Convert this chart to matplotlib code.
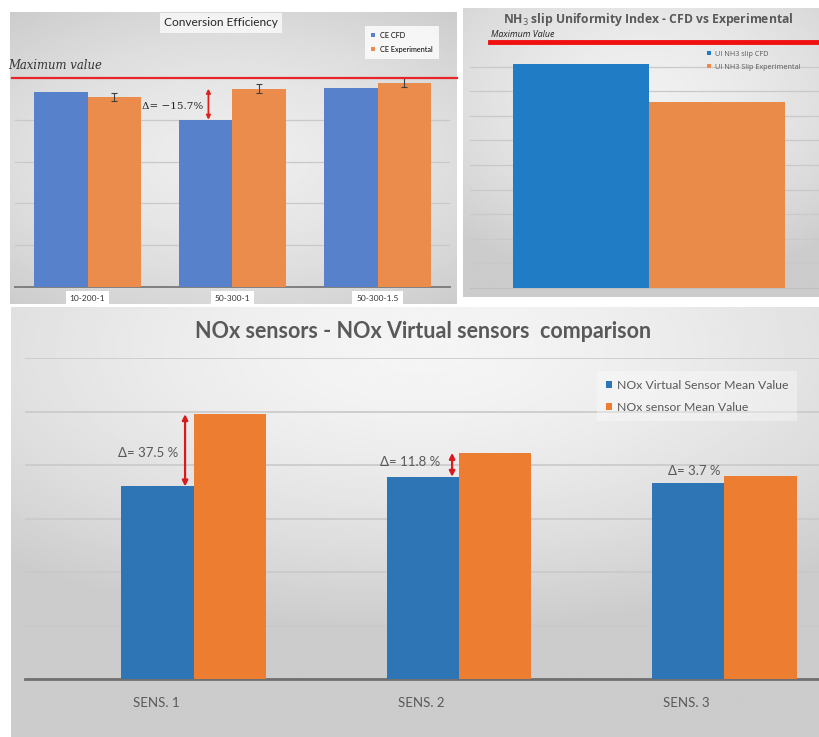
import numpy as np
import matplotlib
matplotlib.use("Agg")
import matplotlib.pyplot as plt

# --- data ---
ce_cases = ["10-200-1", "50-300-1", "50-300-1.5"]
ce_cfd = [93.5, 80.0, 95.0]
ce_exp = [91.0, 94.9, 97.8]
ce_exp_err = [2.0, 2.2, 2.0]
ce_max = 100.0

ui_labels = ["UI NH3 slip CFD", "UI NH3 Slip Experimental"]
ui_values = [0.91, 0.755]
ui_max = 1.0

sensors = ["SENS. 1", "SENS. 2", "SENS. 3"]
nox_virtual = [3.60, 3.78, 3.66]
nox_sensor = [4.95, 4.226, 3.795]

W, H = 820, 737
fig = plt.figure(figsize=(W / 100, H / 100), dpi=100)
fig.patch.set_facecolor("white")


def rect(x0, y0, x1, y1):
    # pixel box (top-left origin) -> figure fraction
    return [x0 / W, 1 - y1 / H, (x1 - x0) / W, (y1 - y0) / H]


def panel_bg(box, hi, lo, cy=0.0):
    ax = fig.add_axes(rect(*box), zorder=0)
    ax.axis("off")
    yy, xx = np.mgrid[-1:1:300j, -1:1:300j]
    r = np.sqrt(0.7 * xx ** 2 + (yy - cy) ** 2)
    img = hi - (hi - lo) * np.clip(r / 1.3, 0, 1) ** 1.6
    ax.imshow(img, cmap="gray", vmin=0, vmax=1, aspect="auto",
              interpolation="bilinear")
    return ax


GRID = "#c9c9c9"
TXT = "#595959"

# ================= Conversion Efficiency =================
panel_bg((10, 12, 457, 304), 0.93, 0.80)
ax1 = fig.add_axes(rect(15, 78, 450, 287), zorder=2)
ax1.patch.set_alpha(0)
x = np.arange(len(ce_cases))
bw = 0.372
ax1.bar(x - bw / 2, ce_cfd, bw, color="#5781cb", zorder=3, label="CE CFD")
ax1.bar(x + bw / 2, ce_exp, bw, color="#ec8c4c", zorder=3, label="CE Experimental")
ax1.errorbar(x + bw / 2, ce_exp, yerr=ce_exp_err, fmt="none", ecolor="#404040",
             elinewidth=0.8, capsize=2, capthick=0.8, zorder=4)
ax1.set_xlim(-0.5, 2.5)
ax1.set_ylim(0, ce_max)
ax1.set_yticks([20, 40, 60, 80])
ax1.yaxis.grid(True, color=GRID, lw=0.9, zorder=0)
ax1.set_axisbelow(True)
for s in ["top", "right", "left"]:
    ax1.spines[s].set_visible(False)
ax1.spines["bottom"].set_color("#7f7f7f")
ax1.spines["bottom"].set_linewidth(1.4)
ax1.tick_params(left=False, labelleft=False, bottom=False, labelbottom=False)
for xi, lab in zip(x, ce_cases):
    ax1.text(xi, -4, lab, ha="center", va="top", fontsize=6, family="Lato",
             color="#333333", bbox=dict(fc="white", ec="none", pad=3))
ax1.axhline(ce_max, xmin=-0.008, xmax=1.016, color="#e8262a", lw=1.6,
            clip_on=False, zorder=5)
ax1.text(-0.545, ce_max + 3, "Maximum value", fontsize=8.4, style="italic",
         family="DejaVu Serif", color="#333333", va="bottom")
fig.text(221 / W, 1 - 23 / H, "Conversion Efficiency", ha="center", va="center",
         fontsize=8.6, family="Lato", color="#262626",
         bbox=dict(fc="white", ec="none", pad=3, alpha=0.7))
d1 = (ce_cfd[1] - ce_exp[1]) / ce_exp[1] * 100
ax1.annotate("", xy=(0.834, ce_cfd[1]), xytext=(0.834, ce_exp[1]),
             arrowprops=dict(arrowstyle="<|-|>", color="#e0201c", lw=1.3,
                             shrinkA=0, shrinkB=0, mutation_scale=6), zorder=6)
ax1.text(0.80, 86.5, "Δ= −%.1f%%" % abs(d1), ha="right", va="center",
         fontsize=7.5, family="DejaVu Serif", color="#222222")
leg1 = ax1.legend(loc="upper left", bbox_to_anchor=(0.80, 1.26),
                  frameon=True, handlelength=0.5, handleheight=0.5,
                  borderpad=0.6, labelspacing=1.0, handletextpad=0.8,
                  prop=dict(family="Lato", size=5.2))
leg1.get_frame().set_facecolor("white")
leg1.get_frame().set_edgecolor("none")
leg1.get_frame().set_boxstyle("square", pad=0.2)

# ================= NH3 slip Uniformity Index =================
panel_bg((463, 8, 830, 297), 0.94, 0.80, cy=-0.4)
ax2 = fig.add_axes(rect(470, 42, 820, 288), zorder=2)
ax2.patch.set_alpha(0)
bw2 = 0.38
ax2.bar(-bw2 / 2, ui_values[0], bw2, color="#1f7cc5", zorder=3, label=ui_labels[0])
ax2.bar(bw2 / 2, ui_values[1], bw2, color="#eb8b49", zorder=3, label=ui_labels[1])
ax2.set_xlim(-0.5, 0.478)
ax2.set_ylim(0, ui_max)
ax2.set_yticks(np.arange(0.1, 1.0, 0.1))
ax2.yaxis.grid(True, color=GRID, lw=0.9, zorder=0)
ax2.set_axisbelow(True)
for s in ["top", "right", "left"]:
    ax2.spines[s].set_visible(False)
ax2.spines["bottom"].set_color("#c0c0c0")
ax2.tick_params(left=False, labelleft=False, bottom=False, labelbottom=False)
ax2.axhline(ui_max, xmin=20 / 350, xmax=1.0, color="#f01010", lw=3.5,
            clip_on=False, zorder=5)
ax2.text(-0.44, ui_max + 0.012, "Maximum Value", fontsize=6.4, style="italic",
         family="Open Sans", color="#222222", va="bottom")
fig.text(648 / W, 1 - 20 / H, r"NH$_3$ slip Uniformity Index - CFD vs Experimental",
         ha="center", va="center", fontsize=8.7, fontweight="bold",
         family="Open Sans", color="#595959")
leg2 = ax2.legend(loc="upper left", bbox_to_anchor=(0.66, 0.99),
                  frameon=False, handlelength=0.5, handleheight=0.5,
                  labelspacing=0.8, handletextpad=0.5,
                  prop=dict(family="Open Sans", size=5.2))
for t in leg2.get_texts():
    t.set_color(TXT)

# ================= NOx sensors =================
panel_bg((11, 307, 830, 737), 0.96, 0.80, cy=-0.8)
ax3 = fig.add_axes(rect(25, 358, 820, 679), zorder=2)
ax3.patch.set_alpha(0)
x3 = np.arange(len(sensors))
bw3 = 0.273
ax3.bar(x3 - bw3 / 2, nox_virtual, bw3, color="#2e75b6", zorder=3,
        label="NOx Virtual Sensor Mean Value")
ax3.bar(x3 + bw3 / 2, nox_sensor, bw3, color="#ed7d31", zorder=3,
        label="NOx sensor Mean Value")
ax3.set_xlim(-0.635, 2.36)
ax3.set_ylim(0, 6)
ax3.set_yticks(np.arange(1, 7))
ax3.yaxis.grid(True, color=GRID, lw=1.2, zorder=0)
ax3.set_axisbelow(True)
for s in ["top", "right", "left"]:
    ax3.spines[s].set_visible(False)
ax3.spines["bottom"].set_color("#6f6f6f")
ax3.spines["bottom"].set_linewidth(2)
ax3.tick_params(left=False, labelleft=False, bottom=False, labelbottom=False)
for xi, lab in zip(x3, sensors):
    ax3.text(xi - 0.142, -0.075, lab, transform=ax3.get_xaxis_transform(),
             ha="center", va="center", fontsize=9.5,
             family=["Liberation Sans Narrow", "Lato"], color=TXT)
fig.text(423 / W, 1 - 331 / H, "NOx sensors - NOx Virtual sensors  comparison",
         ha="center", va="center", fontsize=15.5, fontweight="bold",
         family="Lato", color="#595959")

arrow_x = [-0.032, 0.974, None]
label_pos = [(-0.058, 4.22), (0.928, 4.06), (1.885, 3.89)]
for i in range(len(sensors)):
    d = (nox_sensor[i] - nox_virtual[i]) / nox_virtual[i] * 100
    if arrow_x[i] is not None:
        ax3.annotate("", xy=(arrow_x[i], nox_virtual[i]),
                     xytext=(arrow_x[i], nox_sensor[i]),
                     arrowprops=dict(arrowstyle="<|-|>", color="#d9191c", lw=1.6,
                                     shrinkA=0, shrinkB=0, mutation_scale=8),
                     zorder=6)
        ha = "right"
    else:
        ha = "center"
    lx, ly = label_pos[i]
    ax3.text(lx, ly, "Δ= %.1f %%" % d, ha=ha, va="center", fontsize=9.5,
             family="Lato", color=TXT, zorder=6)

leg3 = ax3.legend(loc="upper left", bbox_to_anchor=(0.715, 0.97),
                  frameon=True, handlelength=0.55, handleheight=0.55,
                  labelspacing=0.9, handletextpad=0.4, borderpad=0.5,
                  prop=dict(family="Lato", size=8.8))
leg3.get_frame().set_facecolor("white")
leg3.get_frame().set_alpha(0.35)
leg3.get_frame().set_edgecolor("none")
leg3.get_frame().set_boxstyle("square", pad=0.2)
for t in leg3.get_texts():
    t.set_color(TXT)

fig.savefig("out.png", dpi=100, facecolor="white")
